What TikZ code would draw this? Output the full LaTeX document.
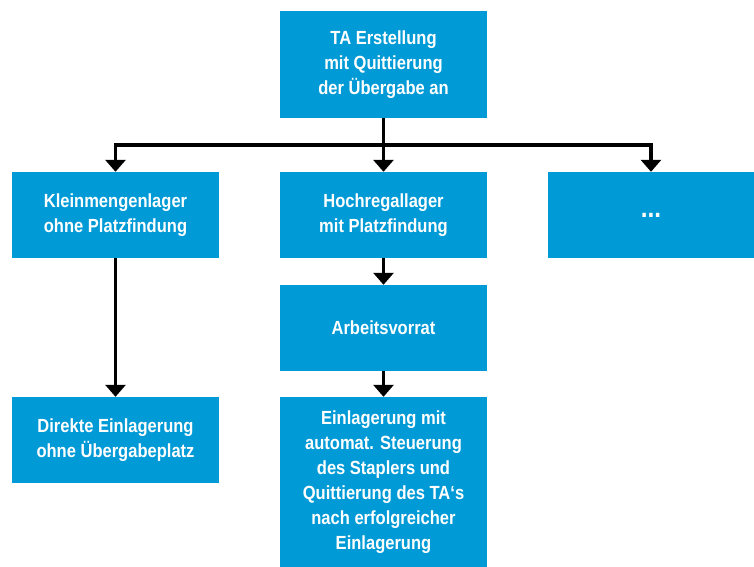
\documentclass[tikz,border=0pt]{standalone}
\usepackage{fontspec}
\setmainfont{Liberation Sans}[FakeStretch=0.87]
\usetikzlibrary{arrows.meta}
\definecolor{boxblue}{HTML}{009AD6}
\tikzset{
  box/.style={fill=boxblue, draw=none, text=white, font=\bfseries\fontsize{19}{25}\selectfont,
    align=center, inner sep=0pt, minimum width=207pt, minimum height=86pt},
  conn/.style={line width=3.8pt, draw=black, line join=miter},
  arr/.style={conn, -{Triangle[width=20pt,length=12pt]}}
}
\begin{document}
\begin{tikzpicture}[x=1pt,y=-1pt]
\useasboundingbox (0,0) rectangle (754,566);
\node[box, minimum height=107pt] (top) at (383.5,64.5) {TA Erstellung\\mit Quittierung\\der Übergabe an};
\node[box] (kl) at (115.5,215) {Kleinmengenlager\\ohne Platzfindung};
\node[box] (hr) at (383.5,215) {Hochregallager\\mit Platzfindung};
\node[box, minimum width=206pt, font=\bfseries\fontsize{28}{30}\selectfont] (dots) at (651,215) {...};
\node[box] (av) at (383.5,328) {Arbeitsvorrat};
\node[box] (de) at (115.5,440) {Direkte Einlagerung\\ohne Übergabeplatz};
\node[box, minimum height=171pt] (ein) at (383.5,482.5) {Einlagerung mit\\automat. Steuerung\\des Staplers und\\Quittierung des TA‘s\\nach erfolgreicher\\Einlagerung};
\coordinate (hub) at (383.5,145);
\draw[conn] (top.south) -- (hub);
\draw[arr] (hub) -| (kl.north);
\draw[arr] (hub) -| (dots.north);
\draw[arr] (hub) -- (hr.north);
\draw[arr] (kl.south) -- (de.north);
\draw[arr] (hr.south) -- (av.north);
\draw[arr] (av.south) -- (ein.north);
\end{tikzpicture}
\end{document}
